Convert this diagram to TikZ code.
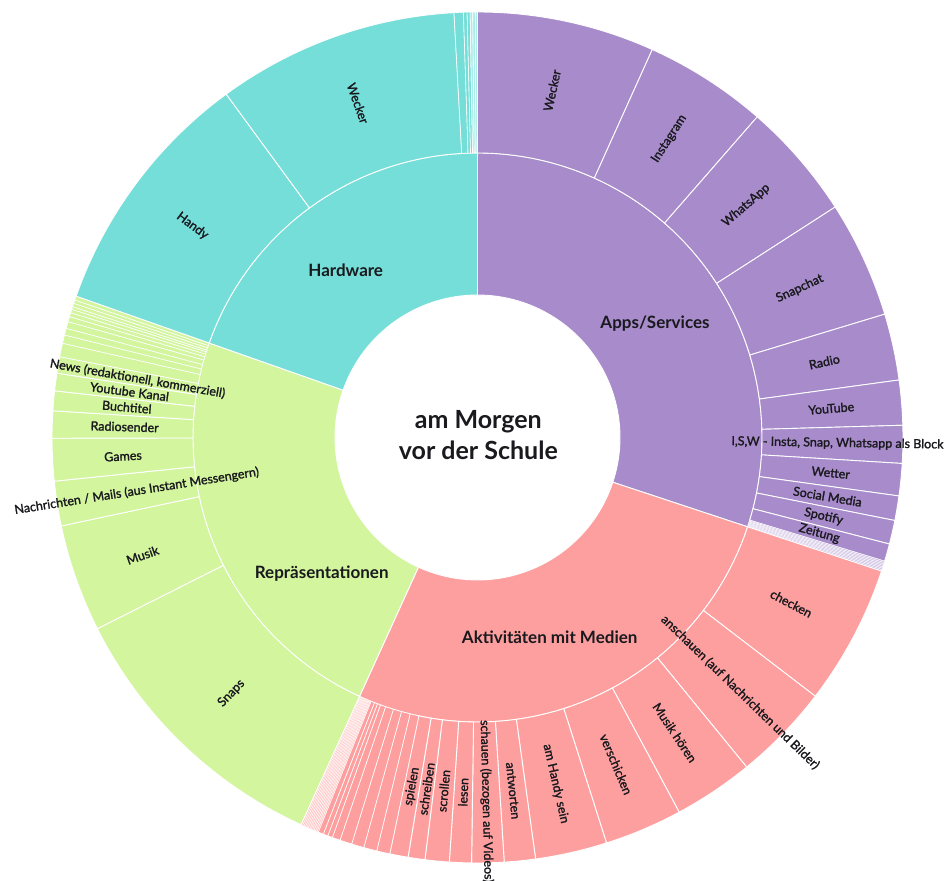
\documentclass[tikz,border=0pt]{standalone}
\usepackage{fontspec}
\setmainfont{Lato}
\newfontfamily\labfont[FakeBold=1.5]{Lato}
\pgfdeclarelayer{fg}
\pgfsetlayers{main,fg}
\definecolor{capps}{RGB}{168,139,202}
\definecolor{cappsl}{RGB}{210,196,230}
\definecolor{chard}{RGB}{117,222,217}
\definecolor{chardl}{RGB}{170,236,233}
\definecolor{crep}{RGB}{210,245,158}
\definecolor{cakt}{RGB}{254,159,159}
\definecolor{caktl}{RGB}{255,200,200}
\definecolor{ctext}{RGB}{25,25,30}
\tikzset{
  slice/.style={draw=white, line width=0.9pt, line join=round},
  tslice/.style={draw=white, line width=0.6pt},
  lslice/.style={draw=white, line width=0.3pt},
  lab/.style={inner sep=0pt, font=\labfont\fontsize{12.5}{14}\selectfont, text=ctext},
  ilab/.style={inner sep=0pt, font=\bfseries\fontsize{17}{20}\selectfont, text=ctext},
}
% outer slice with label: [radius]{name}{a1}{a2}{colour}{text}
\newcommand\osl[6][355]{%
  \filldraw[fill=#5, slice] (#3:284.5pt) arc[start angle=#3, end angle=#4, radius=284.5pt] -- (#4:425.5pt) arc[start angle=#4, end angle=#3, radius=425.5pt] -- cycle;
  \pgfmathsetmacro\mA{(#3+#4)/2}%
  \pgfmathsetmacro\rA{ifthenelse(abs(\mA)>90, \mA+180, \mA)}%
  \begin{pgfonlayer}{fg}\node[lab, rotate=\rA] (#2) at (\mA:#1pt) {#6};\end{pgfonlayer}%
}
% tiny outer slice, no label
\newcommand\tsl[4][tslice]{%
  \filldraw[fill=#4, #1] (#2:284.5pt) arc[start angle=#2, end angle=#3, radius=284.5pt] -- (#3:425.5pt) arc[start angle=#3, end angle=#2, radius=425.5pt] -- cycle;}
% inner slice
\newcommand\isl[3]{%
  \filldraw[fill=#3, slice] (#1:142.5pt) arc[start angle=#1, end angle=#2, radius=142.5pt] -- (#2:284.5pt) arc[start angle=#2, end angle=#1, radius=284.5pt] -- cycle;}
\begin{document}
\begin{tikzpicture}[x=1pt, y=1pt]
\useasboundingbox (0,0) rectangle (952,880);
\begin{scope}[shift={(477.5,442.5)}]
% inner ring
\isl{90}{-18.3}{capps}
\isl{-18.3}{-114.5}{cakt}
\isl{-114.5}{-199.4}{crep}
\isl{-199.4}{-270}{chard}
% Apps/Services
\osl{aw}{90}{65.75}{capps}{Wecker}
\osl{ai}{65.75}{48.9}{capps}{Instagram}
\osl{awa}{48.9}{32.8}{capps}{WhatsApp}
\osl{as}{32.8}{16.85}{capps}{Snapchat}
\osl{ar}{16.85}{7.77}{capps}{Radio}
\osl{ay}{7.77}{1.65}{capps}{YouTube}
\osl[360]{aisw}{1.65}{-3.5}{capps}{I,S,W - Insta, Snap, Whatsapp als Block}
\osl{awe}{-3.5}{-7.9}{capps}{Wetter}
\osl{asm}{-7.9}{-11.25}{capps}{Social Media}
\osl{asp}{-11.25}{-14.5}{capps}{Spotify}
\osl{aze}{-14.5}{-16.9}{capps}{Zeitung}
\foreach \a in {-16.9,-17.1,-17.3,-17.5,-17.7,-17.9,-18.1}{\tsl[lslice]{\a}{\a-0.2}{cappsl}}
% Aktivitaeten mit Medien
\osl{kc}{-18.3}{-37.45}{cakt}{checken}
\osl[366]{ka}{-37.45}{-50.76}{cakt}{anschauen (auf Nachrichten und Bilder)}
\osl{km}{-50.76}{-61.7}{cakt}{Musik hören}
\osl{kv}{-61.7}{-72.35}{cakt}{verschicken}
\osl{kh}{-72.35}{-82.15}{cakt}{am Handy sein}
\osl{kan}{-82.15}{-86.4}{cakt}{antworten}
\osl[364]{ks}{-86.4}{-90.8}{cakt}{schauen (bezogen auf Videos)}
\osl{kl}{-90.8}{-93.8}{cakt}{lesen}
\osl{ksc}{-93.8}{-97.1}{cakt}{scrollen}
\osl{ksr}{-97.1}{-99.4}{cakt}{schreiben}
\osl{ksp}{-99.4}{-101.9}{cakt}{spielen}
\tsl{-101.9}{-103.7}{cakt}
\tsl{-103.7}{-105.5}{cakt}
\tsl{-105.5}{-107.2}{cakt}
\tsl{-107.2}{-108.85}{cakt}
\tsl{-108.85}{-109.95}{cakt}
\tsl{-109.95}{-110.6}{cakt}
\tsl{-110.6}{-111.25}{cakt}
\tsl{-111.25}{-111.97}{cakt}
\foreach \a in {-111.97,-112.18,-112.39,-112.6,-112.81,-113.02,-113.23,-113.44,-113.65,-113.86,-114.07,-114.28}{\tsl[lslice]{\a}{\a-0.21}{caktl}}
% Repraesentationen
\osl{rs}{-114.5}{-153.3}{crep}{Snaps}
\osl{rm}{-153.3}{-168}{crep}{Musik}
\osl[345]{rn}{-168}{-174.1}{crep}{Nachrichten / Mails (aus Instant Messengern)}
\osl{rg}{-174.1}{-179.9}{crep}{Games}
\osl[353]{rr}{-179.9}{-183.6}{crep}{Radiosender}
\osl[352]{rb}{-183.6}{-186.3}{crep}{Buchtitel}
\osl[351]{ry}{-186.3}{-188.7}{crep}{Youtube Kanal}
\osl[345]{rnw}{-188.7}{-190.95}{crep}{News (redaktionell, kommerziell)}
\tsl{-190.95}{-192.8}{crep}
\tsl{-192.8}{-193.94}{crep}
\tsl{-193.94}{-194.87}{crep}
\tsl{-194.87}{-195.8}{crep}
\tsl{-195.8}{-196.5}{crep}
\tsl{-196.5}{-197.05}{crep}
\tsl{-197.05}{-197.53}{crep}
\tsl{-197.53}{-197.9}{crep}
\tsl{-197.9}{-198.38}{crep}
\tsl{-198.38}{-198.85}{crep}
\tsl{-198.85}{-199.4}{crep}
% Hardware
\osl{hh}{-199.4}{-233.8}{chard}{Handy}
\osl{hw}{-233.8}{-266.83}{chard}{Wecker}
\tsl{-266.83}{-268.1}{chard}
\tsl{-268.1}{-268.6}{chard}
\tsl{-268.6}{-269.0}{chard}
\tsl{-269.0}{-269.35}{chardl}
\tsl{-269.35}{-269.7}{chardl}
\tsl{-269.7}{-270}{chardl}
\end{scope}
% inner labels
\node[ilab] (lapps) at (655,556.7) {Apps/Services};
\node[ilab] (lhard) at (345.7,609.3) {Hardware};
\node[ilab] (lrep) at (321.7,306.7) {Repräsentationen};
\node[ilab] (lakt) at (549.7,242.7) {Aktivitäten mit Medien};
\node[inner sep=0pt, align=center, text=ctext, font=\bfseries\fontsize{25}{31}\selectfont] (title) at (478.3,444.5) {am Morgen\\vor der Schule};
\end{tikzpicture}
\end{document}
